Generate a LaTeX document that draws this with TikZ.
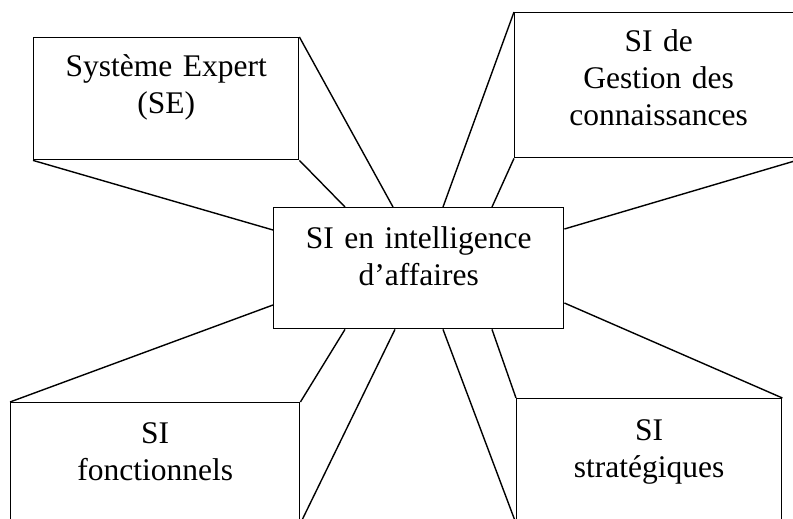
\documentclass[tikz,border=0pt]{standalone}
\usepackage{fontspec}
\setmainfont{Liberation Serif}
\usetikzlibrary{calc}
\begin{document}
\begin{tikzpicture}[x=1pt, y=-1pt,
  box/.style={draw, line width=1.4pt, fill=white, inner sep=0pt, anchor=north west},
  lbl/.style={anchor=base, align=center, text width=320pt, inner sep=0pt,
    font=\fontsize{31.5}{37}\selectfont},
  link/.style={line width=1.4pt}]
  \useasboundingbox (0,0) rectangle (793,519);
  \clip (0,0) rectangle (793,519);

  % boxes
  \node[box, minimum width=290pt, minimum height=121pt] (c) at (273,207) {};
  \node[box, minimum width=265pt, minimum height=122pt] (se) at (33,37) {};
  \node[box, minimum width=288pt, minimum height=145pt] (tr) at (514,12) {};
  \node[box, minimum width=289pt, minimum height=120pt] (bl) at (10,402) {};
  \node[box, minimum width=265pt, minimum height=124pt] (br) at (516,398) {};

  % box texts
  \node[lbl] (cT)  at ($(c.north)+(0,41)$)  {SI en intelligence\\d’affaires};
  \node[lbl] (seT) at ($(se.north)+(0,40)$) {Système Expert\\(SE)};
  \node[lbl] (trT) at ($(tr.north)+(0,40)$) {SI de\\Gestion des\\connaissances};
  \node[lbl] (blT) at ($(bl.north)+(0,41)$) {SI\\fonctionnels};
  \node[lbl] (brT) at ($(br.north)+(0,42)$) {SI\\stratégiques};

  % perspective links towards the central box
  \draw[link] (se.north east) -- ($(c.north west)+(120,0)$);
  \draw[link] (se.south east) -- ($(c.north west)+(72,0)$);
  \draw[link] (se.south west) -- ($(c.north west)+(0,23)$);

  \draw[link] (tr.north west) -- ($(c.north west)+(170,0)$);
  \draw[link] (tr.south west) -- ($(c.north west)+(219,0)$);
  \draw[link] (tr.south east) -- ($(c.north east)+(0,22)$);

  \draw[link] (bl.north west) -- ($(c.north west)+(0,98)$);
  \draw[link] (bl.north east) -- ($(c.south west)+(72,0)$);
  \draw[link] (bl.south east) -- ($(c.south west)+(122,0)$);

  \draw[link] (br.north east) -- ($(c.north east)+(0,96)$);
  \draw[link] (br.south west) -- ($(c.south west)+(170,0)$);
  \draw[link] (br.north west) -- ($(c.south west)+(219,0)$);
\end{tikzpicture}
\end{document}
